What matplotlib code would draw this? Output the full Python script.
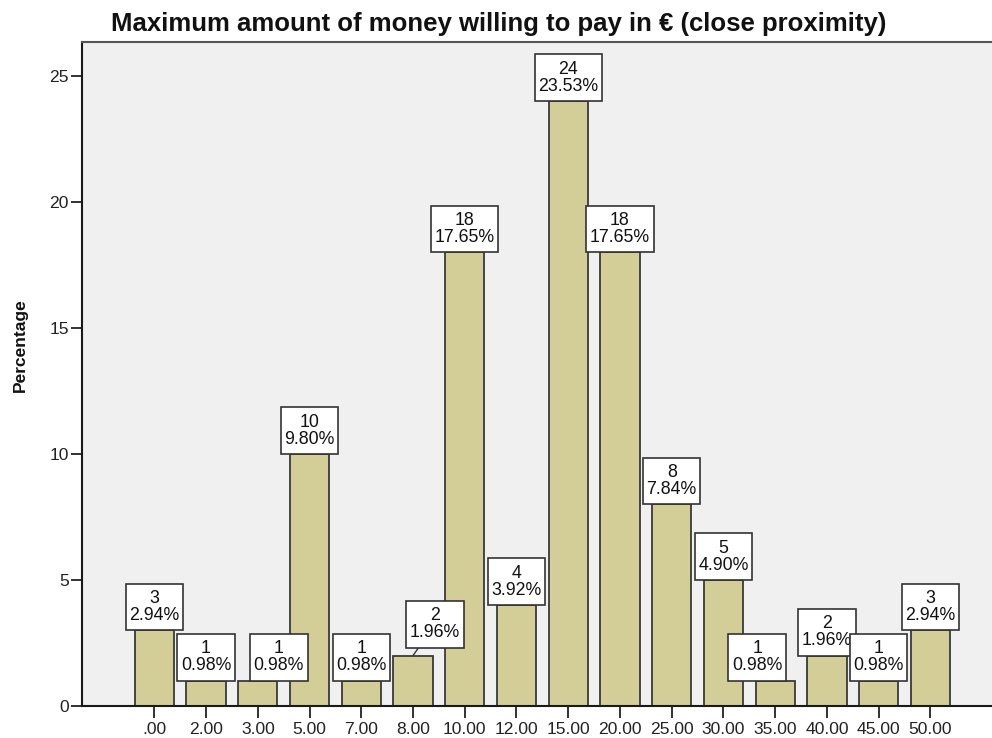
import matplotlib
matplotlib.use("Agg")
import matplotlib.pyplot as plt
from matplotlib.path import Path

categories = [".00", "2.00", "3.00", "5.00", "7.00", "8.00", "10.00", "12.00",
              "15.00", "20.00", "25.00", "30.00", "35.00", "40.00", "45.00", "50.00"]
counts = [3, 1, 1, 10, 1, 2, 18, 4, 24, 18, 8, 5, 1, 2, 1, 3]
percents = [2.94, 0.98, 0.98, 9.80, 0.98, 1.96, 17.65, 3.92, 23.53, 17.65,
            7.84, 4.90, 0.98, 1.96, 0.98, 2.94]
y_ticks = [0, 5, 10, 15, 20, 25]

title = "Maximum amount of money willing to pay in € (close proximity)"
ylabel = "Percentage"

# label box offsets in pixels (dx, dy) for the few displaced labels
label_offsets = {2: (21, 0), 5: (22, 8), 12: (-18, 0)}

plt.rcParams['font.family'] = ['Liberation Sans', 'DejaVu Sans']

DPI = 100
fig = plt.figure(figsize=(9.92, 7.38), dpi=DPI)
W, H = 992, 738
ax = fig.add_axes([82 / W, (H - 706) / H, (W - 82) / W, (706 - 42) / H])
ax.set_facecolor('#F0F0F0')

x = list(range(len(categories)))
ax.bar(x, counts, width=0.76, color='#D3CE97', edgecolor='#3A3A3A', linewidth=1.3, zorder=2)

ax.set_xlim(-1.397, 16.19)
ax.set_ylim(0, 26.35)
ax.set_xticks(x)
ax.set_xticklabels(categories)
ax.set_yticks(y_ticks)
ax.tick_params(axis='x', length=8.5, width=1.3, pad=3, labelsize=12.6, colors='#222222')
ax.tick_params(axis='y', length=8, width=1.3, pad=1.5, labelsize=12.6, colors='#222222')

for s in ['left', 'bottom']:
    ax.spines[s].set_linewidth(1.5)
    ax.spines[s].set_color('#1a1a1a')
ax.spines['top'].set_color('#555555')
ax.spines['top'].set_linewidth(1.5)
ax.spines['right'].set_visible(False)

fs = 12.8
PX, PY = 0.2, 0.36


def label_box(x0, y0, width, height, mutation_size):
    px = PX * mutation_size
    py = PY * mutation_size
    verts = [(x0 - px, y0 - py), (x0 + width + px, y0 - py),
             (x0 + width + px, y0 + height + py), (x0 - px, y0 + height + py),
             (x0 - px, y0 - py)]
    codes = [Path.MOVETO, Path.LINETO, Path.LINETO, Path.LINETO, Path.CLOSEPOLY]
    return Path(verts, codes)


px2pt = 72.0 / DPI
for i, (c, p) in enumerate(zip(counts, percents)):
    dx, dy = label_offsets.get(i, (0, 0))
    txt = f"{c}\n{p:.2f}%"
    arrow = None
    if dy > 0:
        arrow = dict(arrowstyle='-', color='#333333', lw=1, shrinkA=0, shrinkB=0)
    ax.annotate(txt, xy=(i, c), xytext=(dx * px2pt, dy * px2pt + PY * fs),
                textcoords='offset points', ha='center', va='bottom',
                fontsize=fs, linespacing=1.0, color='#111111',
                bbox=dict(boxstyle=label_box, fc='white', ec='#333333', lw=1.2),
                arrowprops=arrow, zorder=5)

fig.text(499 / W, 1 - 24 / H, title, ha='center', va='center', fontsize=18.5,
         fontweight='bold', color='#111111')
fig.text(20 / W, 1 - 345 / H, ylabel, ha='center', va='center', rotation=90,
         fontsize=12.5, fontweight='bold', color='#111111')

fig.savefig('out.png', dpi=DPI)
